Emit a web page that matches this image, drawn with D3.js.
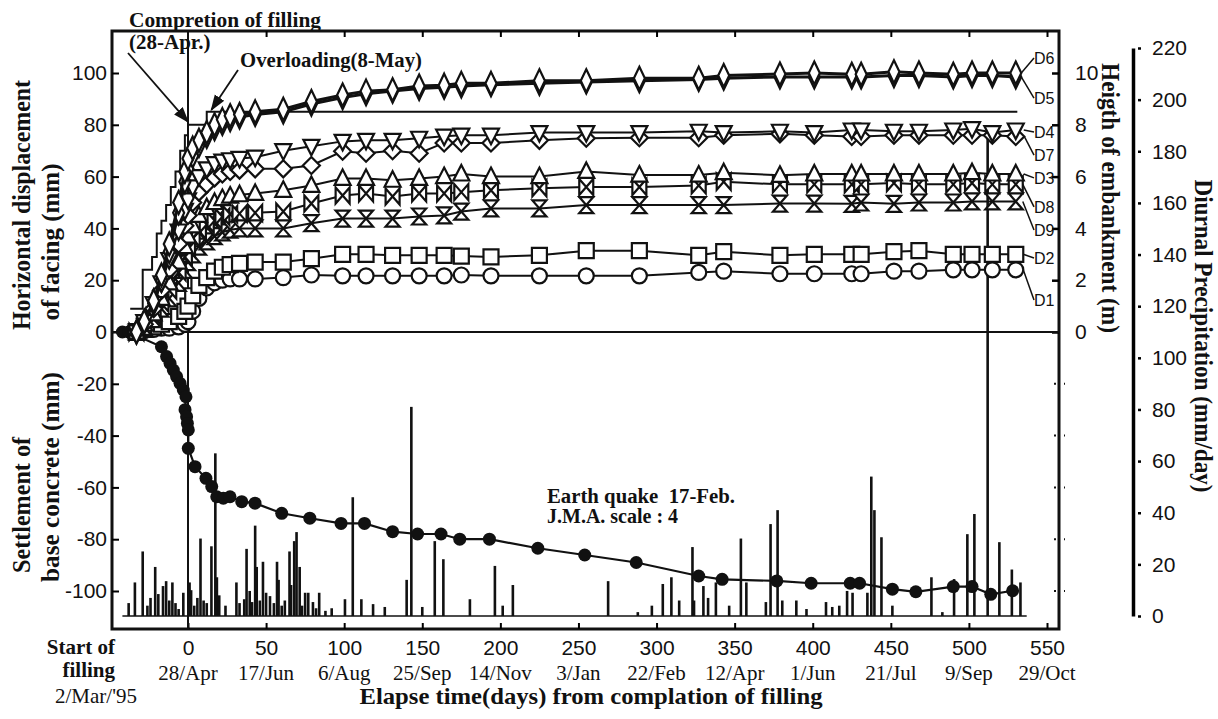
<!DOCTYPE html>
<html>
<head>
<meta charset="utf-8">
<script src="https://cdn.jsdelivr.net/npm/d3@7"></script>
<style>
  body { margin: 0; background: #fff; }
  text { fill: #111; }
  .serif { font-family: "Liberation Serif", "Times New Roman", serif; }
  .sans { font-family: "Liberation Sans", Arial, sans-serif; }
</style>
</head>
<body>
<svg id="chart" width="1218" height="719"></svg>
<script>
// measurement days (days from completion of filling, 28 Apr)
const days = [-33, -28, -22, -17, -12, -6, -2, 0, 3, 7, 12, 17, 22, 27, 33, 43, 61, 79, 99, 114,
  131, 148, 164, 175, 194, 225, 255, 289, 327, 343, 379, 401, 425, 431, 452, 468, 490, 502, 515, 530];

// horizontal displacement of facing (mm)
const d1Vals = [0, 0.5, 1, 1.5, 1.5, 2, 3, 4, 8, 13, 17, 19, 20, 20.5, 20.5, 20.5, 21, 22, 21.7, 21.7,
  21.7, 21.7, 21.7, 22, 21.7, 21.7, 21.7, 21.7, 23, 23.5, 22.5, 22.5, 22.5, 22.5, 23.5, 23.5, 24, 24, 24, 24];
const d2Vals = [0, 1, 2, 3, 4, 6, 8, 10, 14, 18, 21, 23.5, 25, 26, 26.5, 27, 27, 28.3, 30, 30,
  29.6, 29.6, 29.6, 29.3, 29, 29.6, 31.4, 31.4, 29.6, 31, 29.6, 30, 30, 30, 31, 31.4, 30, 30, 30, 30];
const d3Vals = [0, 3, 7, 13, 19, 27, 33, 37, 41, 45, 48, 50, 51.5, 52.5, 53, 53.5, 54.7, 56.6, 59.3, 59.3,
  58.6, 59.3, 60, 61, 60, 60, 62, 60.6, 60.6, 61.5, 60.5, 61, 61, 61, 61, 61, 61, 61.5, 61, 61];
const d4Vals = [0, 4, 11, 19, 28, 39, 47, 51, 56, 60, 63, 65, 66, 66.5, 67, 67.5, 70, 71.7, 73.6, 74,
  74, 74.8, 75.6, 76, 76, 77, 77, 77, 77.5, 77, 77.5, 77, 78, 78, 77.5, 77.5, 78, 78.5, 77, 78];
const d5Vals = [0, 4, 11, 20, 31, 46, 58, 63, 68, 72, 75.5, 78.5, 80.5, 82, 83, 84, 85, 88, 90.5, 92,
  93, 94, 94.5, 95, 95.5, 96, 96.5, 97, 97.5, 98, 98.5, 98.5, 98.5, 98.5, 99, 99, 98.5, 99, 99, 98.5];
const d6Vals = [0, 4, 12, 22, 34, 50, 62, 67, 71, 74, 77, 80, 82, 83.5, 84, 85, 86, 89, 91.5, 93,
  93.5, 95, 95.3, 96, 96, 97, 97, 98, 98, 99, 99.6, 100, 99.5, 99.5, 100.5, 100, 99.5, 100, 100, 100];
const d7Vals = [0, 3, 9, 16, 24, 34, 41, 45, 50, 54, 57, 59.5, 61, 62, 62.5, 63, 63, 64.3, 69.8, 69,
  70, 69, 73, 73, 73, 74, 74.8, 75, 75, 76, 76.5, 76, 75.5, 75.5, 76, 76, 76, 76, 76, 75.5];
const d8Vals = [0, 2, 6, 11, 16, 23, 29, 32, 36, 39, 41.5, 43, 44.5, 45.5, 45.7, 46, 46.5, 49.6, 52.7, 53.5,
  52.3, 53.5, 53.5, 54, 54.7, 55.5, 56, 56, 56.6, 58, 57, 57, 57, 57, 57.5, 57, 57, 57.5, 57, 57];
const d9Vals = [0, 2, 5, 9, 13, 19, 24, 27, 30, 33, 35, 37, 38.5, 39.5, 40, 40, 40, 42, 43.8, 43.8,
  43.8, 44.6, 45, 46.5, 47.7, 47.7, 49, 49, 49, 49, 49.6, 49.6, 49.5, 50, 49.5, 50, 50, 50.4, 50.4, 50.4];

// settlement of base concrete (mm)
const settleDays = [-42, -38, -17, -13.7, -11.5, -9.4, -7.3, -5.1, -3, -1.3, -1.9, -0.9, -0.4, 0.2, 0.2, 4.5,
  11.5, 15.2, 18.4, 22.6, 26.9, 34.4, 42.9, 60, 78, 98, 113, 131, 147, 162, 174, 193, 224, 254, 287,
  327, 342, 377, 399, 424, 430, 451, 466, 490, 502, 514, 528];
const settleVals = [0, 0, -5.7, -9.5, -12.1, -14.7, -17.2, -19.8, -22.4, -25, -30, -32.7, -35.3, -37.8, -44.9, -52,
  -56.5, -59.7, -63.6, -64.2, -63.6, -65.5, -66.1, -70, -71.9, -73.9, -73.9, -77.1, -78, -78, -80, -80, -83.5, -86.1, -89,
  -94.2, -95.5, -96.1, -97, -97, -97, -99.3, -100.3, -98.3, -98.3, -101.3, -99.9];

// height of embankment (m)
const heightDays = [-37, -29, -23, -20, -17, -14, -11, -8, -5, -2, 0, 12, 531];
const heightVals = [0.9, 2.4, 2.9, 3.8, 4.3, 4.9, 5.6, 6.2, 7.0, 7.6, 8.0, 8.5, 8.5];

// diurnal precipitation (mm/day)
const rainDays = [-38, -34, -29, -26, -24, -21, -19, -16, -14, -12, -10, -8, -6, -3, 1, 2, 4, 6, 8, 10,
  12, 15, 17.5, 18.5, 20, 24, 31, 33, 36, 37.5, 39.5, 41, 43, 44, 46, 48, 50, 52.5, 55, 57,
  58, 60, 62, 65, 66, 68, 69.5, 71.5, 73, 75, 77, 80, 82, 84, 88, 92, 100.5, 105.5, 111, 118.5,
  126, 140, 143, 150, 158, 163.5, 180.5, 196.5, 201.5, 208, 269, 288, 297, 304, 309.5, 314.5, 323, 324,
  330, 333, 338, 346.5, 354, 357.5, 370, 373, 377.5, 380.5, 389.5, 396, 408.5, 412.5, 417, 422, 425.5,
  435, 437.5, 439.5, 444, 451, 476, 483, 490.5, 499, 503.5, 512, 519.5, 527.5, 533];
const rainVals = [5, 13, 25, 4, 7, 19, 8.5, 11.6, 13.5, 6, 13, 5, 2.7, 9, 13, 10, 4, 7, 30, 6,
  5, 27, 63, 15, 8, 4, 13, 5, 6.5, 26, 9.7, 5.4, 35, 19, 6, 21, 9, 7.7, 5, 21,
  14, 4, 6, 25, 12, 29, 32.5, 19, 4, 9, 9, 5.4, 3, 9, 2, 3, 6.5, 46, 6.5, 4.6,
  3.5, 14, 81, 3.5, 29, 22, 6.5, 19.4, 4, 12, 13.5, 1.5, 4, 12.4, 15, 6, 26.7, 6,
  11.6, 7, 13, 4, 30, 13, 5.4, 35.6, 41, 6, 6, 2.7, 5.4, 3.5, 4, 9.7, 9,
  9, 54, 41, 30.5, 4, 15, 1.5, 14.3, 31.7, 39.5, 190, 28.6, 18, 13];

// axes
const xTicks = [0, 50, 100, 150, 200, 250, 300, 350, 400, 450, 500, 550];
const xDates = ["28/Apr", "17/Jun", "6/Aug", "25/Sep", "14/Nov", "3/Jan", "22/Feb", "12/Apr", "1/Jun", "21/Jul", "9/Sep", "29/Oct"];
const yTicks = [-100, -80, -60, -40, -20, 0, 20, 40, 60, 80, 100];
const hTicks = [0, 2, 4, 6, 8, 10];
const pTicks = [0, 20, 40, 60, 80, 100, 120, 140, 160, 180, 200, 220];

// series labels: name and where the label sits (mm)
const labelNames = ["D6", "D5", "D4", "D7", "D3", "D8", "D9", "D2", "D1"];
const labelAt = [105.8, 90.3, 77.2, 68.3, 59.5, 48.3, 39.4, 28.6, 12.4];

const svg = d3.select("#chart");
const ink = "#111";
const serifFont = '"Liberation Serif", "Times New Roman", serif';
const frame = { left: 112, right: 1059, top: 31, bottom: 629 };

const x = d3.scaleLinear().domain([0, 550]).range([188, 1047]);
const y = d3.scaleLinear().domain([-100, 100]).range([591, 73]);
const yH = d3.scaleLinear().domain([0, 10]).range([y(0), y(100)]);
const yP = d3.scaleLinear().domain([0, 220]).range([616, 48]);

// marker outlines
const shapes = {
  circle: "M7.5,0A7.5,7.5 0 1,1 -7.5,0A7.5,7.5 0 1,1 7.5,0Z",
  square: "M-7.5,-7.5H7.5V7.5H-7.5Z",
  triUp: "M0,-9L8,6.5H-8Z",
  triDown: "M0,9L8,-6.5H-8Z",
  diamond: "M0,-8.5L8.5,0L0,8.5L-8.5,0Z",
  tall: "M0,-11.5L5.5,0L0,11.5L-5.5,0Z",
  bowtie: "M-7,-8L7,8V-8L-7,8Z",
  hourglass: "M-7,-8H7L-7,8H7Z"
};

const series = [
  { name: "D1", vals: d1Vals, shape: "circle", w: 7.5 },
  { name: "D2", vals: d2Vals, shape: "square", w: 7.5 },
  { name: "D9", vals: d9Vals, shape: "hourglass", w: 7 },
  { name: "D8", vals: d8Vals, shape: "bowtie", w: 7 },
  { name: "D3", vals: d3Vals, shape: "triUp", w: 8 },
  { name: "D7", vals: d7Vals, shape: "diamond", w: 8.5 },
  { name: "D4", vals: d4Vals, shape: "triDown", w: 8 },
  { name: "D5", vals: d5Vals, shape: "tall", w: 5.5 },
  { name: "D6", vals: d6Vals, shape: "tall", w: 5.5 }
];

// frame and ticks
svg.append("rect")
  .attr("x", frame.left).attr("y", frame.top)
  .attr("width", frame.right - frame.left).attr("height", frame.bottom - frame.top)
  .attr("fill", "none").attr("stroke", ink).attr("stroke-width", 3);

const gx = svg.append("g").attr("transform", `translate(0,${frame.bottom})`)
  .call(d3.axisBottom(x).tickValues(xTicks).tickSize(-6).tickPadding(11).tickFormat(d => String(d)));
gx.select(".domain").remove();
gx.selectAll("text").attr("class", "sans").style("font-size", "21px");
gx.selectAll("line").attr("stroke-width", 2);

svg.append("g").attr("transform", `translate(0,${frame.top})`)
  .call(d3.axisTop(x).tickValues(xTicks.slice(1)).tickSize(-6).tickFormat(""))
  .call(g => g.select(".domain").remove())
  .selectAll("line").attr("stroke-width", 2);

svg.append("g").selectAll("text").data(xTicks).join("text")
  .style("font-family", serifFont)
  .attr("x", d => x(d)).attr("y", 680)
  .attr("text-anchor", "middle").style("font-size", "21px")
  .text((d, i) => xDates[i]);

const gy = svg.append("g").attr("transform", `translate(${frame.left},0)`)
  .call(d3.axisLeft(y).tickValues(yTicks).tickSize(-7).tickPadding(5).tickFormat(d => String(d)));
gy.select(".domain").remove();
gy.selectAll("text").attr("class", "sans").style("font-size", "21px");
gy.selectAll("line").attr("stroke-width", 2);

const gh = svg.append("g").attr("transform", `translate(${frame.right},0)`)
  .call(d3.axisRight(yH).tickValues(hTicks).tickSize(-7).tickPadding(16).tickFormat(d => String(d)));
gh.select(".domain").remove();
gh.selectAll("text").attr("class", "sans").style("font-size", "21px");
gh.selectAll("line").attr("stroke-width", 2.5);

// small settlement ticks on the right frame
svg.append("g").selectAll("line").data(yTicks.filter(d => d < 0)).join("line")
  .attr("x1", frame.right - 5).attr("x2", frame.right + 6)
  .attr("y1", d => y(d)).attr("y2", d => y(d))
  .attr("stroke", ink).attr("stroke-width", 2).attr("stroke-dasharray", "2,8");

const gp = svg.append("g").attr("transform", "translate(1133,0)")
  .call(d3.axisRight(yP).tickValues(pTicks).tickSize(4).tickSizeOuter(0).tickPadding(15).tickFormat(d => String(d)));
gp.select(".domain").attr("stroke-width", 3.5);
gp.selectAll("text").attr("class", "sans").style("font-size", "21px");
gp.selectAll(".tick line").attr("x1", 5).attr("x2", 8).attr("stroke-width", 2.5);

// zero line and day 0 line
svg.append("line")
  .attr("x1", frame.left).attr("x2", frame.right).attr("y1", y(0)).attr("y2", y(0))
  .attr("stroke", ink).attr("stroke-width", 2);
svg.append("line")
  .attr("x1", x(0)).attr("x2", x(0)).attr("y1", frame.top).attr("y2", frame.bottom)
  .attr("stroke", ink).attr("stroke-width", 2);

// precipitation bars
svg.append("line")
  .attr("x1", x(-42)).attr("x2", x(537)).attr("y1", yP(0)).attr("y2", yP(0))
  .attr("stroke", ink).attr("stroke-width", 1.5);
svg.append("g").selectAll("rect").data(rainDays).join("rect")
  .attr("x", d => x(d) - 1.3).attr("width", 2.6)
  .attr("y", (d, i) => yP(rainVals[i]))
  .attr("height", (d, i) => yP(0) - yP(rainVals[i]))
  .attr("fill", ink);

// height of embankment
svg.append("path")
  .datum(heightDays.map((d, i) => [d, heightVals[i]]))
  .attr("fill", "none").attr("stroke", ink).attr("stroke-width", 2)
  .attr("d", d3.line().x(d => x(d[0])).y(d => yH(d[1])).curve(d3.curveStepAfter));

// settlement
const settle = settleDays.map((d, i) => [d, settleVals[i]]);
svg.append("path").datum(settle)
  .attr("fill", "none").attr("stroke", ink).attr("stroke-width", 2.2)
  .attr("d", d3.line().x(d => x(d[0])).y(d => y(d[1])));
svg.append("g").selectAll("circle").data(settle).join("circle")
  .attr("cx", d => x(d[0])).attr("cy", d => y(d[1])).attr("r", 6.5).attr("fill", ink);

// displacement series
const line = d3.line().x(d => x(d[0])).y(d => y(d[1]));
series.forEach(s => {
  const pts = days.map((d, i) => [d, s.vals[i]]);
  const g = svg.append("g");
  g.append("path").datum(pts)
    .attr("fill", "none").attr("stroke", ink)
    .attr("stroke-width", s.shape === "tall" ? 3 : 2)
    .attr("d", line);
  g.selectAll("path.mk").data(pts).join("path").attr("class", "mk")
    .attr("transform", d => `translate(${x(d[0])},${y(d[1])})`)
    .attr("d", shapes[s.shape])
    .attr("fill", "#fff").attr("stroke", ink).attr("stroke-width", 2.2);
});

// series labels with leaders
labelNames.forEach((name, i) => {
  const s = series.find(k => k.name === name);
  const last = s.vals[s.vals.length - 1];
  const x0 = x(days[days.length - 1]) + s.w;
  const ly = y(labelAt[i]);
  svg.append("line")
    .attr("x1", x0).attr("y1", y(last)).attr("x2", 1034).attr("y2", ly)
    .attr("stroke", ink).attr("stroke-width", 1.5);
  svg.append("text").attr("class", "sans")
    .attr("x", 1034).attr("y", ly).attr("dy", "0.36em")
    .style("font-size", "16px").text(name);
});

// annotations
const defs = svg.append("defs");
defs.append("marker").attr("id", "arr")
  .attr("viewBox", "0 0 10 10").attr("refX", 9).attr("refY", 5)
  .attr("markerWidth", 9).attr("markerHeight", 9).attr("orient", "auto")
  .append("path").attr("d", "M0,1.5L10,5L0,8.5Z").attr("fill", ink);

svg.append("line").attr("x1", 128).attr("y1", 53).attr("x2", x(0)).attr("y2", yH(8.0) - 3)
  .attr("stroke", ink).attr("stroke-width", 1.8).attr("marker-end", "url(#arr)");
svg.append("line").attr("x1", 238).attr("y1", 70).attr("x2", x(15)).attr("y2", yH(8.5) - 2)
  .attr("stroke", ink).attr("stroke-width", 1.8).attr("marker-end", "url(#arr)");

const bold = (t, px, py, size, len) => {
  const el = svg.append("text")
    .attr("x", px).attr("y", py)
    .style("font-family", serifFont)
    .style("font-size", size + "px").style("font-weight", "bold").text(t);
  if (len) el.attr("textLength", len).attr("lengthAdjust", "spacingAndGlyphs");
  return el;
};
bold("Compretion of filling", 129, 27, 21, 192);
bold("(28-Apr.)", 129, 49, 21);
bold("Overloading(8-May)", 240, 67, 21, 182);
bold("Earth quake\u00a0\u00a017-Feb.", 547, 503, 20, 188);
bold("J.M.A. scale : 4", 547, 523, 20);

bold("Start of", 115, 654, 21).attr("text-anchor", "end");
bold("filling", 115, 677, 21).attr("text-anchor", "end");
svg.append("text").style("font-family", serifFont).attr("x", 55).attr("y", 703)
  .style("font-size", "21px").text("2/Mar/'95");
bold("Elapse time(days) from complation of filling", 591, 704, 24, 463).attr("text-anchor", "middle");

const vtitle = (t, cx, cy, angle, len) => {
  svg.append("text")
    .attr("transform", `translate(${cx},${cy}) rotate(${angle})`)
    .attr("text-anchor", "middle")
    .style("font-family", serifFont)
    .style("font-size", "25px").style("font-weight", "bold")
    .attr("textLength", len).attr("lengthAdjust", "spacingAndGlyphs")
    .text(t);
};
vtitle("Horizontal displacement", 30, 205, -90, 250);
vtitle("of facing (mm)", 59, 242, -90, 157);
vtitle("Settlement of", 30, 505, -90, 136);
vtitle("base concrete (mm)", 59, 477, -90, 210);
vtitle("Heigth of embankment (m)", 1102, 198, 90, 270);
vtitle("Diurnal Precipitation (mm/day)", 1195, 336, 90, 313);
</script>
</body>
</html>
